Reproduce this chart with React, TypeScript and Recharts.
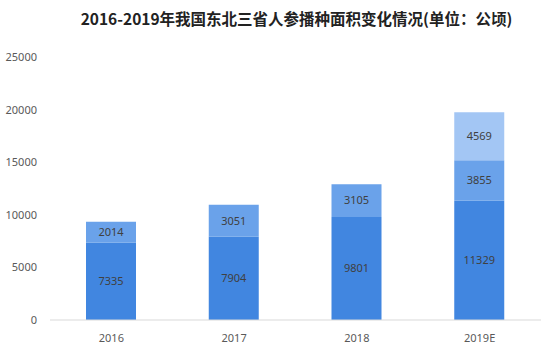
import React from 'react';
import { BarChart, Bar, XAxis, YAxis, LabelList } from 'recharts';

const categories = ['2016', '2017', '2018', '2019E'];
const baseValues = [7335, 7904, 9801, 11329];
const midValues = [2014, 3051, 3105, 3855];
const topValues: (number | null)[] = [null, null, null, 4569];
const yTicks = [0, 5000, 10000, 15000, 20000, 25000];
const title = '2016-2019年我国东北三省人参播种面积变化情况(单位：公顷)';

const data = categories.map((c, i) => ({
  name: c,
  base: baseValues[i],
  mid: midValues[i],
  top: topValues[i],
}));

const fmt = (v: any) => (v === null || v === undefined ? '' : v);
const font = '"Noto Sans", "Noto Sans CJK SC", sans-serif';

export default function App() {
  return (
    <div style={{ position: 'absolute', left: 0, top: 0, width: 541, height: 355, background: '#fff' }}>
      <div
        style={{
          position: 'absolute',
          left: 0,
          top: 7,
          width: 541,
          paddingLeft: 52,
          boxSizing: 'border-box',
          textAlign: 'center',
          fontFamily: '"Noto Sans CJK SC", sans-serif',
          fontWeight: 'bold',
          fontSize: 15.5,
          color: '#222',
          lineHeight: '22px',
          whiteSpace: 'nowrap',
        }}
      >
        {title}
      </div>
      <BarChart
        width={541}
        height={355}
        data={data}
        margin={{ top: 57, right: 0, bottom: 0, left: 0 }}
        barSize={50}
      >
        <XAxis
          dataKey="name"
          axisLine={{ stroke: '#d9d9d9' }}
          tickLine={false}
          height={35}
          tick={{ fill: '#595959', fontSize: 11, fontFamily: font }}
          tickMargin={8}
        />
        <YAxis
          width={50}
          domain={[0, 25000]}
          ticks={yTicks}
          axisLine={false}
          tickLine={false}
          tick={{ fill: '#595959', fontSize: 11, fontFamily: font }}
          tickMargin={7}
        />
        <Bar dataKey="base" stackId="a" fill="#4186e0" isAnimationActive={false}>
          <LabelList dataKey="base" position="center" fill="#404040" fontSize={11} fontFamily={font} formatter={fmt} />
        </Bar>
        <Bar dataKey="mid" stackId="a" fill="#6aa2ea" isAnimationActive={false}>
          <LabelList dataKey="mid" position="center" fill="#404040" fontSize={11} fontFamily={font} formatter={fmt} />
        </Bar>
        <Bar dataKey="top" stackId="a" fill="#a3c6f4" isAnimationActive={false}>
          <LabelList dataKey="top" position="center" fill="#404040" fontSize={11} fontFamily={font} formatter={fmt} />
        </Bar>
      </BarChart>
    </div>
  );
}
